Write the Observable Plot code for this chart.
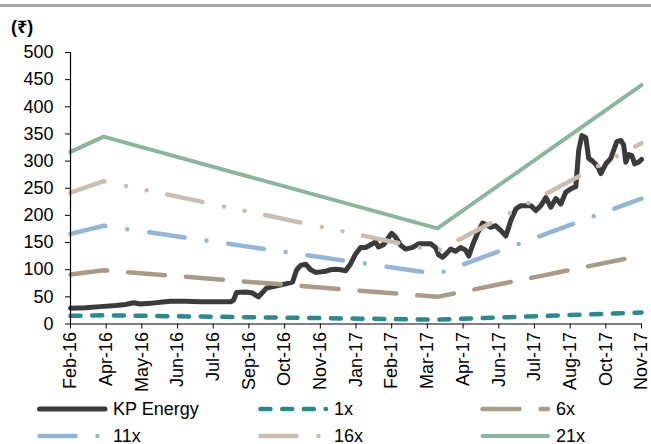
<!DOCTYPE html>
<html>
<head>
<meta charset="utf-8">
<script src="https://cdn.jsdelivr.net/npm/d3@7"></script>
<script src="https://cdn.jsdelivr.net/npm/@observablehq/plot@0.6"></script>
<style>
  html, body { margin: 0; padding: 0; background: #fff; }
  #wrap { position: relative; width: 651px; height: 444px; overflow: hidden; background: #fff;
          font-family: "Liberation Sans", Arial, "Noto Sans", "DejaVu Sans", sans-serif; color: #000; }
  #bar { position: absolute; left: 0; top: 4px; width: 651px; height: 3px; background: #a6a6a6; }
  #unit { position: absolute; left: 11px; top: 14px; font-size: 18px; font-weight: bold; }
  #chart { position: absolute; left: 0; top: 40px; }
  .lg { position: absolute; display: flex; align-items: center; height: 22px; font-size: 18px; white-space: nowrap; }
  .lg svg { display: block; margin-right: 2px; }
</style>
</head>
<body>
<div id="wrap">
  <div id="bar"></div>
  <div id="unit">(₹)</div>
  <div id="chart"></div>
  <div id="legend"></div>
</div>
<script>
// ---- data ----
const xLabels = ["Feb-16","Apr-16","May-16","Jun-16","Jul-16","Sep-16","Oct-16","Nov-16","Jan-17","Feb-17","Mar-17","Apr-17","Jun-17","Jul-17","Aug-17","Oct-17","Nov-17"];
const yTicks = [0, 50, 100, 150, 200, 250, 300, 350, 400, 450, 500];

// KP Energy price: position (in x-label intervals) and value
const kpPos = [0,0.42,0.84,1.26,1.54,1.77,1.96,2.24,2.52,2.80,3.22,3.64,4.07,4.49,4.57,4.65,4.91,5.10,5.27,5.38,5.49,5.75,6.03,6.22,6.34,6.45,6.59,6.73,6.87,7.01,7.15,7.29,7.43,7.57,7.71,7.85,7.99,8.13,8.27,8.41,8.55,8.63,8.77,8.92,9.00,9.11,9.25,9.39,9.59,9.76,10.09,10.23,10.32,10.43,10.54,10.65,10.79,10.93,11.07,11.16,11.27,11.41,11.55,11.66,11.77,11.91,12.06,12.20,12.34,12.48,12.62,12.90,13.04,13.18,13.32,13.46,13.60,13.74,13.88,14.02,14.16,14.24,14.33,14.44,14.52,14.63,14.77,14.86,15.00,15.14,15.22,15.31,15.42,15.50,15.56,15.64,15.73,15.81,15.92,16.00];
const kpVal = [29,30,32,34,36,39,37,38,40,42,42,41,41,41,44,58,59,57,50,58,66,70,74,77,100,108,110,100,95,96,97,100,101,100,98,111,129,141,141,146,151,142,146,160,167,160,145,138,141,148,148,141,127,123,130,138,134,141,136,125,146,168,186,182,178,181,172,162,191,212,218,218,209,218,233,215,231,221,243,249,253,320,347,343,305,300,290,277,295,305,320,336,338,330,298,312,310,295,298,303];

// P/E band values at band vertices
const bandPos = [0, 0.93, 10.28, 16];
const band1x  = [15, 16, 8, 21];
const band6x  = [91, 99, 50, 126];
const band11x = [166, 181, 92, 231];
const band16x = [242, 263, 134, 333];
const band21x = [317, 345, 176, 440];

// ---- styles ----
const series = [
  {name: "KP Energy", color: "#3b3b3b", width: 5,   dash: null},
  {name: "1x",  color: "#2b8a8c", width: 4.5, dash: "10 11.7"},
  {name: "6x",  color: "#a99b87", width: 4.5, dash: "37 21"},
  {name: "11x", color: "#94b6d6", width: 4.5, dash: "36 22 0 22"},
  {name: "16x", color: "#c9beb1", width: 4.5, dash: "36 22 0 21 0 21"},
  {name: "21x", color: "#8ab69d", width: 4,   dash: null}
];

const kp = kpPos.map((p, i) => ({x: p, y: kpVal[i]}));
const bands = [band1x, band6x, band11x, band16x, band21x].map(arr => bandPos.map((p, i) => ({x: p, y: arr[i]})));

const lineOpts = s => ({x: "x", y: "y", stroke: s.color, strokeWidth: s.width,
  strokeDasharray: s.dash || undefined, strokeLinecap: "round", strokeLinejoin: "round"});

const chart = Plot.plot({
  width: 651, height: 360,
  marginLeft: 70, marginRight: 10, marginTop: 12, marginBottom: 76.5,
  style: {fontFamily: '"Liberation Sans", Arial, sans-serif', fontSize: "18px", color: "#000", background: "transparent"},
  x: {domain: [0, 16], label: null},
  y: {domain: [0, 500], label: null},
  marks: [
    Plot.line(kp, lineOpts(series[0])),
    ...bands.map((b, i) => Plot.line(b, lineOpts(series[i + 1]))),
    Plot.ruleY([0], {stroke: "#000", strokeWidth: 1.2}),
    Plot.ruleX([0], {stroke: "#000", strokeWidth: 1.2}),
    Plot.axisY(yTicks, {tickSize: 5, tickPadding: 12, label: null, stroke: "#000"}),
    Plot.axisX(d3.range(xLabels.length), {tickFormat: i => xLabels[i], tickRotate: -90, tickSize: 5, tickPadding: 3, label: null, stroke: "#000"})
  ]
});
document.getElementById("chart").appendChild(chart);

// ---- legend ----
const cols = [37, 258, 480];
const rows = [409, 436];
const legend = document.getElementById("legend");
series.forEach((s, i) => {
  const div = document.createElement("div");
  div.className = "lg";
  div.style.left = cols[i % 3] + "px";
  div.style.top = (rows[Math.floor(i / 3)] - 11) + "px";
  const w = 74;
  const svg = d3.create("svg").attr("width", w).attr("height", 10);
  svg.append("line").attr("x1", 2.5).attr("x2", w - 6).attr("y1", 5).attr("y2", 5)
    .attr("stroke", s.color).attr("stroke-width", s.width)
    .attr("stroke-linecap", "round")
    .attr("stroke-dasharray", s.dash);
  div.appendChild(svg.node());
  const t = document.createElement("span");
  t.textContent = s.name;
  div.appendChild(t);
  legend.appendChild(div);
});
</script>
</body>
</html>
